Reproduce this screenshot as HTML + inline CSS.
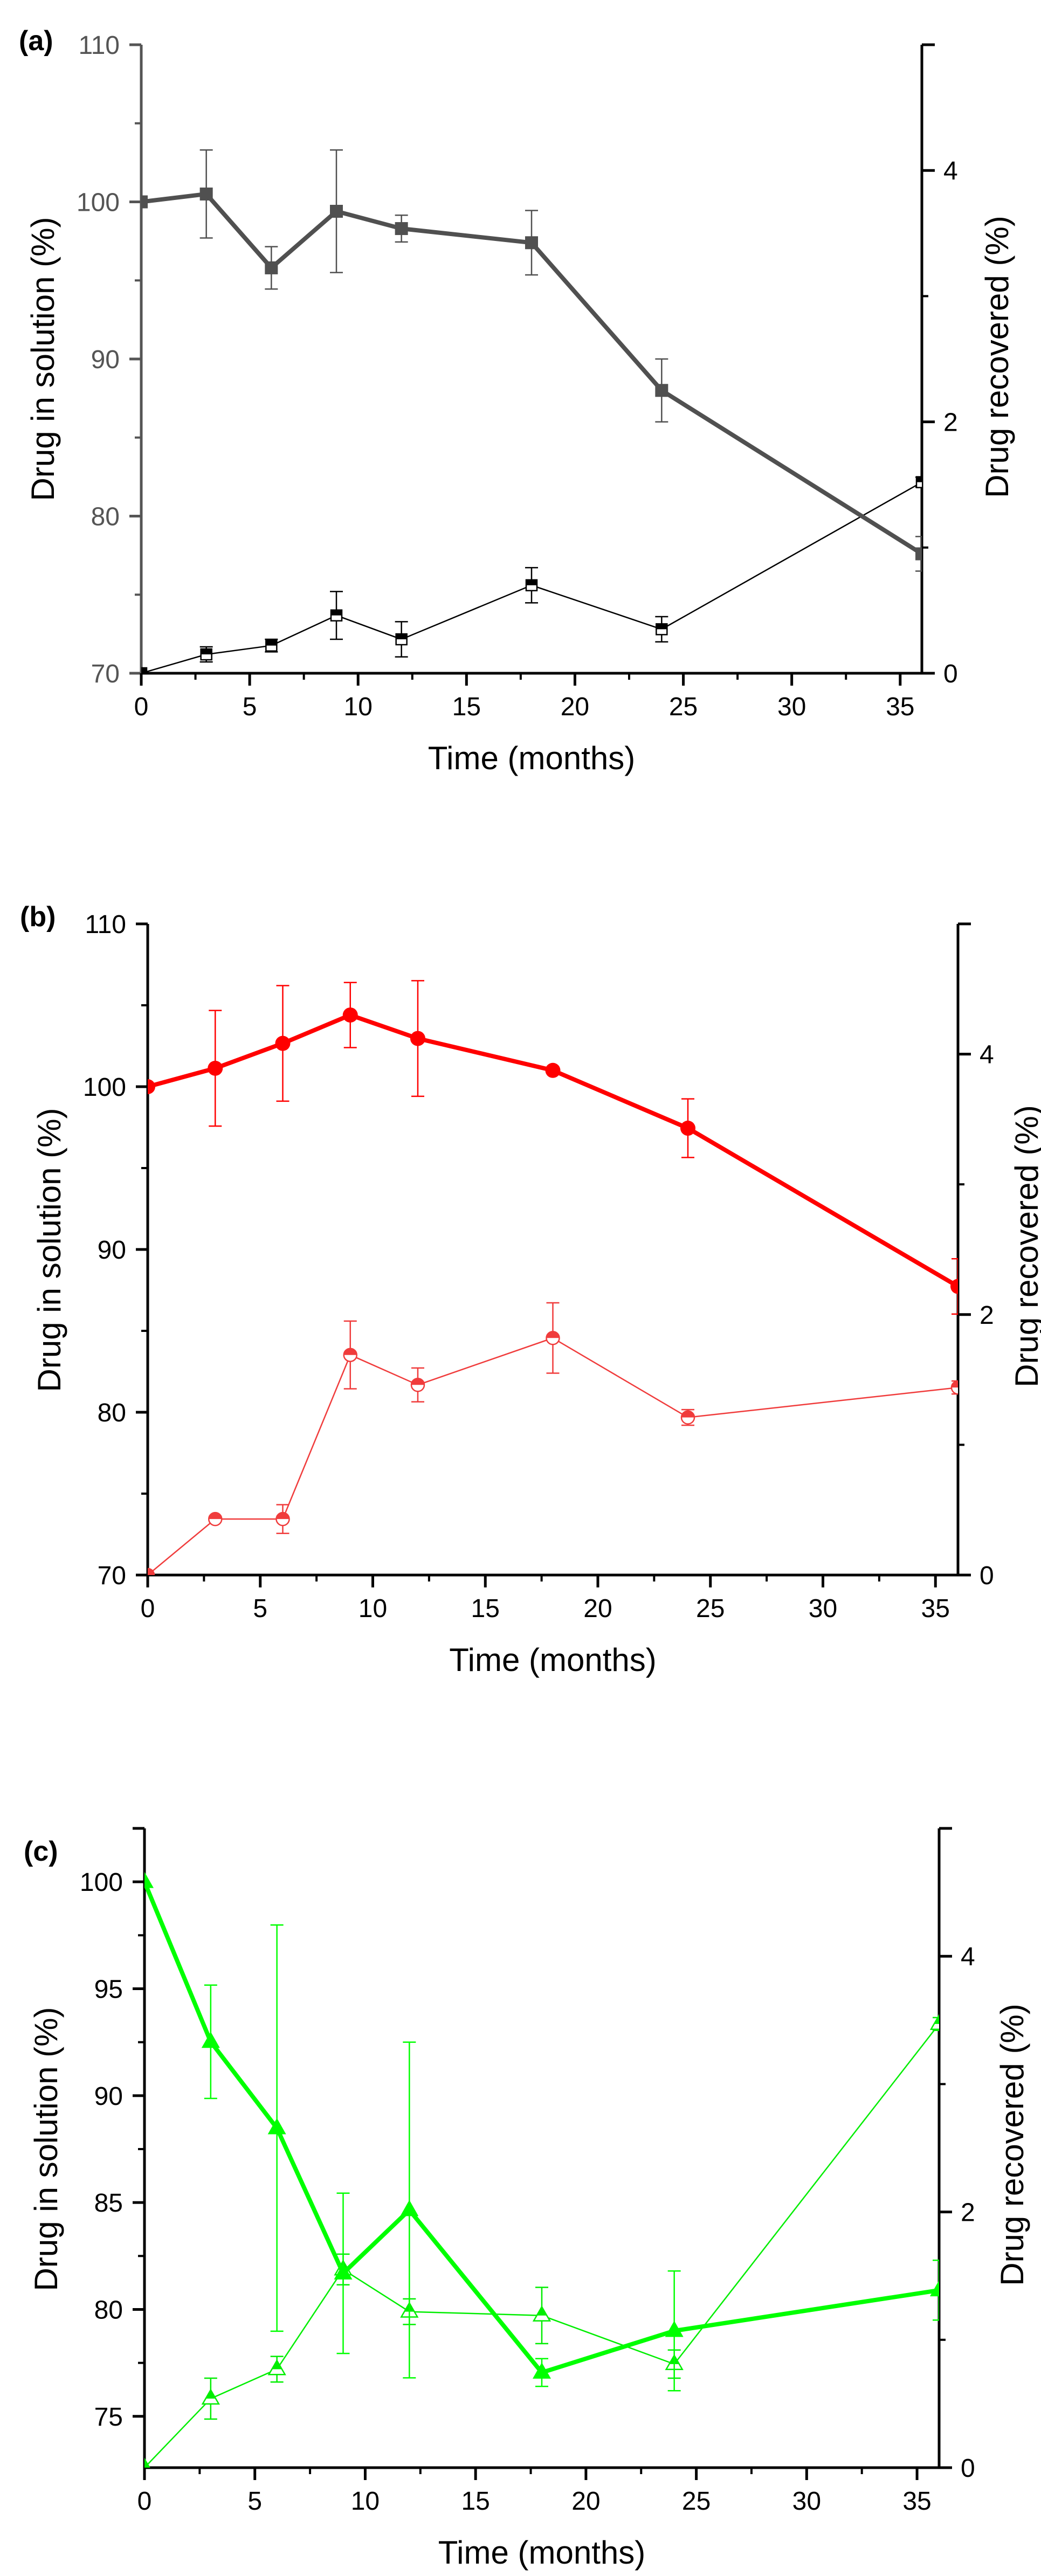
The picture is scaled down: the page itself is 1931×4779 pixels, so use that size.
<!DOCTYPE html>
<html><head><meta charset="utf-8">
<style>
html,body{margin:0;padding:0;background:#fff;}
svg{display:block;}
text{font-family:"Liberation Sans",Arial,sans-serif;}
</style></head>
<body>
<svg id="fig" width="1931" height="4779" viewBox="0 0 1931 4779" xmlns="http://www.w3.org/2000/svg"></svg>
<script>
// ---- shared data ----
const months = [0, 3, 6, 9, 12, 18, 24, 36];
const xTicks = [0, 5, 10, 15, 20, 25, 30, 35];
const rightTicks = [0, 2, 4];

// panel (a)
const aSolution = [100, 100.5, 95.8, 99.4, 98.3, 97.4, 88.0, 77.6];
const aSolutionErr = [0, 2.8, 1.35, 3.9, 0.85, 2.05, 2.0, 1.1];
const aRecovered = [0, 0.15, 0.22, 0.46, 0.27, 0.70, 0.35, 1.52];
const aRecoveredErr = [0, 0.06, 0.05, 0.19, 0.14, 0.14, 0.10, 0.04];
const aLeftTicks = [70, 80, 90, 100, 110];

// panel (b)
const bSolution = [100, 101.13, 102.66, 104.4, 102.96, 101.0, 97.45, 87.73];
const bSolutionErr = [0, 3.55, 3.55, 2.0, 3.55, 0.15, 1.8, 1.7];
const bRecovered = [0, 0.43, 0.43, 1.69, 1.46, 1.82, 1.21, 1.44];
const bRecoveredErr = [0, 0.02, 0.11, 0.26, 0.13, 0.27, 0.06, 0.05];
const bLeftTicks = [70, 80, 90, 100, 110];

// panel (c)
const cSolution = [100, 92.52, 88.48, 81.69, 84.65, 77.05, 79.0, 80.9];
const cSolutionErr = [0, 2.65, 9.5, 3.75, 7.85, 0.65, 2.8, 1.4];
const cRecovered = [0, 0.54, 0.77, 1.55, 1.22, 1.19, 0.81, 3.47];
const cRecoveredErr = [0, 0.16, 0.10, 0.12, 0.10, 0.22, 0.11, 0.05];
const cLeftTicks = [75, 80, 85, 90, 95, 100];

const NS = "http://www.w3.org/2000/svg";
const svg = document.getElementById('fig');
function mk(tag, attrs, parent) {
  const e = document.createElementNS(NS, tag);
  for (const k in attrs) e.setAttribute(k, attrs[k]);
  (parent || svg).appendChild(e);
  return e;
}

function drawPanel(p) {
  const g = mk('g', {});
  
  
  const xS = v => p.L + (v - 0) / 36 * (p.R - p.L);
  const yL = v => p.B - (v - p.yMin) / (p.yMax - p.yMin) * (p.B - p.T);
  const yR = v => p.B - v / 5 * (p.B - p.T);
  const clipId = 'clip' + p.id;
  const cp = mk('clipPath', {id: clipId}, g);
  mk('rect', {x: p.L, y: p.T - 40, width: p.R - p.L, height: p.B - p.T + 40}, cp);

  const lAx = mk('line', {x1: p.L, y1: p.T, x2: p.L, y2: p.B + 2.5, stroke: p.leftColor, 'stroke-width': 5}, g);
  
  
  const rAx = mk('line', {x1: p.R, y1: p.T, x2: p.R, y2: p.B + 2.5, stroke: '#000', 'stroke-width': 5}, g);
  
  
  const bAx = mk('line', {x1: p.L, y1: p.B, x2: p.R + 24, y2: p.B, stroke: '#000', 'stroke-width': 5}, g);
  
  

  mk('line', {x1: p.L - 22, y1: p.T, x2: p.L, y2: p.T, stroke: p.leftColor, 'stroke-width': 5}, g);
  p.leftTicks.forEach(v => {
    const y = yL(v);
    mk('line', {x1: p.L - 22, y1: y, x2: p.L, y2: y, stroke: p.leftColor, 'stroke-width': 5}, g);
    const t = mk('text', {x: p.L - 40, y: y + 17, 'text-anchor': 'end', 'font-size': 48, fill: p.leftColor}, g);
    t.textContent = v;
    
    
    const m = v + p.leftStep / 2;
    if (m < p.yMax) {
      const ym = yL(m);
      mk('line', {x1: p.L - 12, y1: ym, x2: p.L, y2: ym, stroke: p.leftColor, 'stroke-width': 4}, g);
    }
  });

  mk('line', {x1: p.R, y1: p.T, x2: p.R + 24, y2: p.T, stroke: '#000', 'stroke-width': 5}, g);
  rightTicks.forEach(v => {
    const y = yR(v);
    mk('line', {x1: p.R, y1: y, x2: p.R + 24, y2: y, stroke: '#000', 'stroke-width': 5}, g);
    const t = mk('text', {x: p.R + 40, y: y + 17, 'font-size': 48, fill: '#000'}, g);
    t.textContent = v;
    
    
    const ym = yR(v + 1);
    mk('line', {x1: p.R, y1: ym, x2: p.R + 12, y2: ym, stroke: '#000', 'stroke-width': 4}, g);
  });

  xTicks.forEach(v => {
    const x = xS(v);
    mk('line', {x1: x, y1: p.B, x2: x, y2: p.B + 23, stroke: '#000', 'stroke-width': 5}, g);
    const t = mk('text', {x: x, y: p.B + 78, 'text-anchor': 'middle', 'font-size': 48, fill: '#000'}, g);
    t.textContent = v;
    
    
    const xm = xS(v + 2.5);
    if (v + 2.5 < 36) mk('line', {x1: xm, y1: p.B, x2: xm, y2: p.B + 12, stroke: '#000', 'stroke-width': 4}, g);
  });

  const xt = mk('text', {x: (p.L + p.R) / 2, y: p.B + 178, 'text-anchor': 'middle', 'font-size': 60, fill: '#000'}, g);
  xt.textContent = 'Time (months)';
  
  
  const lt = mk('text', {x: 0, y: 0, 'text-anchor': 'middle', 'font-size': 60, fill: '#000', transform: `translate(${p.ltx},${p.lty}) rotate(-90)`}, g);
  lt.textContent = 'Drug in solution (%)';
  
  
  const rt = mk('text', {x: 0, y: 0, 'text-anchor': 'middle', 'font-size': 60, fill: '#000', transform: `translate(${p.rtx},${p.rty}) rotate(-90)`}, g);
  rt.textContent = 'Drug recovered (%)';
  
  
  const pl = mk('text', {x: p.labX, y: p.labY, 'font-size': 52, 'font-weight': 'bold', fill: '#000'}, g);
  pl.textContent = '(' + p.id + ')';
  
  

  const dg = mk('g', {'clip-path': `url(#${clipId})`}, g);

  function series(vals, errs, yf, color, lw, ew, marker, half, name) {
    const sg = mk('g', {}, dg);
    
    
    months.forEach((m, i) => {
      if (!errs[i]) return;
      const x = xS(m), y1 = yf(vals[i] + errs[i]), y2 = yf(vals[i] - errs[i]);
      const e = mk('path', {d: `M${x},${y1}V${y2}M${x - 12},${y1}H${x + 12}M${x - 12},${y2}H${x + 12}`, stroke: color, 'stroke-width': ew, fill: 'none'}, sg);
      
      
    });
    const pts = months.map((m, i) => xS(m) + ',' + yf(vals[i])).join(' ');
    const ln = mk('polyline', {points: pts, fill: 'none', stroke: color, 'stroke-width': lw, 'stroke-linejoin': 'round'}, sg);
    
    
    months.forEach((m, i) => {
      const x = xS(m), y = yf(vals[i]);
      let mkEl;
      if (marker === 'square') {
        const s = half ? 20 : 24;
        if (half) {
          mkEl = mk('g', {}, sg);
          mk('rect', {x: x - s / 2, y: y - s / 2, width: s, height: s, fill: '#fff', stroke: color, 'stroke-width': 2.5}, mkEl);
          mk('rect', {x: x - s / 2, y: y - s / 2, width: s, height: s / 2, fill: color}, mkEl);
        } else mkEl = mk('rect', {x: x - s / 2, y: y - s / 2, width: s, height: s, fill: color}, sg);
      } else if (marker === 'circle') {
        const r = half ? 12 : 14;
        if (half) {
          mkEl = mk('g', {}, sg);
          mk('circle', {cx: x, cy: y, r: r, fill: '#fff', stroke: color, 'stroke-width': 2.5}, mkEl);
          mk('path', {d: `M${x - r},${y}A${r},${r} 0 0 1 ${x + r},${y}Z`, fill: color}, mkEl);
        } else mkEl = mk('circle', {cx: x, cy: y, r: r, fill: color}, sg);
      } else {
        const h = half ? 26 : 30, w = half ? 30 : 34;
        if (half) {
          mkEl = mk('g', {}, sg);
          mk('path', {d: `M${x},${y - h * 0.62}L${x + w / 2},${y + h * 0.38}L${x - w / 2},${y + h * 0.38}Z`, fill: '#fff', stroke: color, 'stroke-width': 2.5}, mkEl);
          mk('path', {d: `M${x},${y - h * 0.62}L${x + w * 0.31},${y}L${x - w * 0.31},${y}Z`, fill: color}, mkEl);
        } else mkEl = mk('path', {d: `M${x},${y - h * 0.62}L${x + w / 2},${y + h * 0.38}L${x - w / 2},${y + h * 0.38}Z`, fill: color}, sg);
      }
      
      
    });
  }
  series(p.rec, p.recErr, yR, p.recColor, 2.5, 2.5, p.marker, true, 'recovered-series');
  series(p.sol, p.solErr, yL, p.solColor, 8, 2.5, p.marker, false, 'solution-series');
}

drawPanel({id: 'a', L: 262, R: 1710, T: 83, B: 1249, yMin: 70, yMax: 110, leftStep: 10,
  leftTicks: aLeftTicks, leftColor: '#555', sol: aSolution, solErr: aSolutionErr, rec: aRecovered, recErr: aRecoveredErr,
  solColor: '#505050', recColor: '#000', marker: 'square',
  ltx: 100, lty: 666, rtx: 1870, rty: 662, labX: 35, labY: 93});
drawPanel({id: 'b', L: 274, R: 1777, T: 1714, B: 2922, yMin: 70, yMax: 110, leftStep: 10,
  leftTicks: bLeftTicks, leftColor: '#000', sol: bSolution, solErr: bSolutionErr, rec: bRecovered, recErr: bRecoveredErr,
  solColor: '#ff0000', recColor: '#f03c3c', marker: 'circle',
  ltx: 112, lty: 2319, rtx: 1925, rty: 2312, labX: 37, labY: 1718});
drawPanel({id: 'c', L: 268, R: 1742, T: 3392, B: 4578, yMin: 72.6, yMax: 102.5, leftStep: 5,
  leftTicks: cLeftTicks, leftColor: '#000', sol: cSolution, solErr: cSolutionErr, rec: cRecovered, recErr: cRecoveredErr,
  solColor: '#00ff00', recColor: '#00ee00', marker: 'triangle',
  ltx: 106, lty: 3987, rtx: 1898, rty: 3979, labX: 44, labY: 3452});
</script>
</body></html>
